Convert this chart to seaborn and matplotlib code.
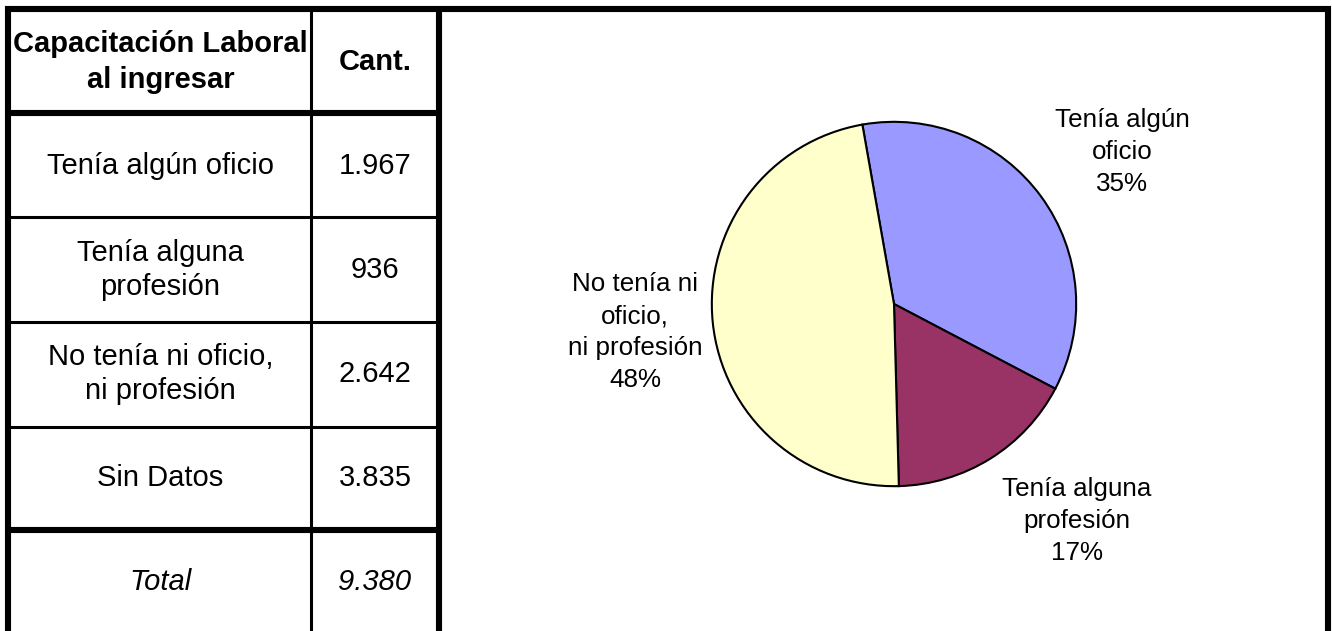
# Capacitación laboral al ingresar: table + pie chart

import matplotlib
matplotlib.use('Agg')
import matplotlib.pyplot as plt
import seaborn as sns

sns.set_style('white')
plt.rcParams['font.family'] = ['Liberation Sans', 'DejaVu Sans']
plt.rcParams['text.color'] = 'black'

# ── Data ───────────────────────────────────────────────
header_labels = ['Capacitación Laboral\nal ingresar', 'Cant.']
row_labels = ['Tenía algún oficio', 'Tenía alguna\nprofesión',
              'No tenía ni oficio,\nni profesión', 'Sin Datos']
row_values = ['1.967', '936', '2.642', '3.835']
total_label = 'Total'
total_value = '9.380'

pie_names = ['Tenía algún\noficio', 'Tenía alguna\nprofesión',
             'No tenía ni\noficio,\nni profesión']
pie_values = [1967, 936, 2642]
pie_colors = ['#9999FF', '#993366', '#FFFFCC']

# ── Figure (pixel coordinates on a background axes) ────
W, H = 1332, 631
fig = plt.figure(figsize=(W / 100, H / 100), dpi=100)
bg = fig.add_axes([0, 0, 1, 1])
bg.set_xlim(0, W)
bg.set_ylim(H, 0)
bg.axis('off')

thick = 4.4
thin = 2.2

# table / box borders
bg.plot([5, 1331], [9, 9], color='black', lw=thick, solid_capstyle='butt')
bg.plot([8, 8], [6, H], color='black', lw=thick, solid_capstyle='butt')
bg.plot([311, 311], [9, H], color='black', lw=thin, solid_capstyle='butt')
bg.plot([439, 439], [6, H], color='black', lw=thick, solid_capstyle='butt')
bg.plot([1328, 1328], [6, H], color='black', lw=thick, solid_capstyle='butt')

row_lines = [(113, thick), (216.5, thin), (321.5, thin), (426.5, thin), (530, thick)]
for y, lw in row_lines:
    bg.plot([8, 439], [y, y], color='black', lw=lw, solid_capstyle='butt')

# table text
col_x = [160.5, 375]
fs = 21
bg.text(col_x[0], 62, header_labels[0], ha='center', va='center',
        fontsize=fs, fontweight='bold', linespacing=1.35)
bg.text(col_x[1], 62, header_labels[1], ha='center', va='center',
        fontsize=fs, fontweight='bold')

row_y = [166, 270, 374, 478]
for y, lab, val in zip(row_y, row_labels, row_values):
    bg.text(col_x[0], y, lab, ha='center', va='center', fontsize=fs, linespacing=1.31)
    bg.text(col_x[1], y, val, ha='center', va='center', fontsize=fs)

bg.text(col_x[0], 582, total_label, ha='center', va='center', fontsize=fs, style='italic')
bg.text(col_x[1], 582, total_value, ha='center', va='center', fontsize=fs, style='italic')

# ── Pie chart ──────────────────────────────────────────
cx, cy, r = 894, 304, 184
pie_ax = fig.add_axes([(cx - r) / W, (H - cy - r) / H, 2 * r / W, 2 * r / H])
pie_ax.pie(pie_values, colors=pie_colors, startangle=100, counterclock=False,
           radius=1, wedgeprops=dict(edgecolor='black', linewidth=1.5))
pie_ax.set_xlim(-1.01, 1.01)
pie_ax.set_ylim(-1.01, 1.01)
pie_ax.set_aspect('equal')
pie_ax.axis('off')

total = sum(pie_values)
label_pos = [(1122, 152), (1077, 521), (635, 332)]
for (x, y), name, v in zip(label_pos, pie_names, pie_values):
    pct = round(v / total * 100)
    bg.text(x, y, f'{name}\n{pct}%', ha='center', va='center',
            fontsize=18.7, linespacing=1.42)

plt.savefig('out.png', dpi=100)
